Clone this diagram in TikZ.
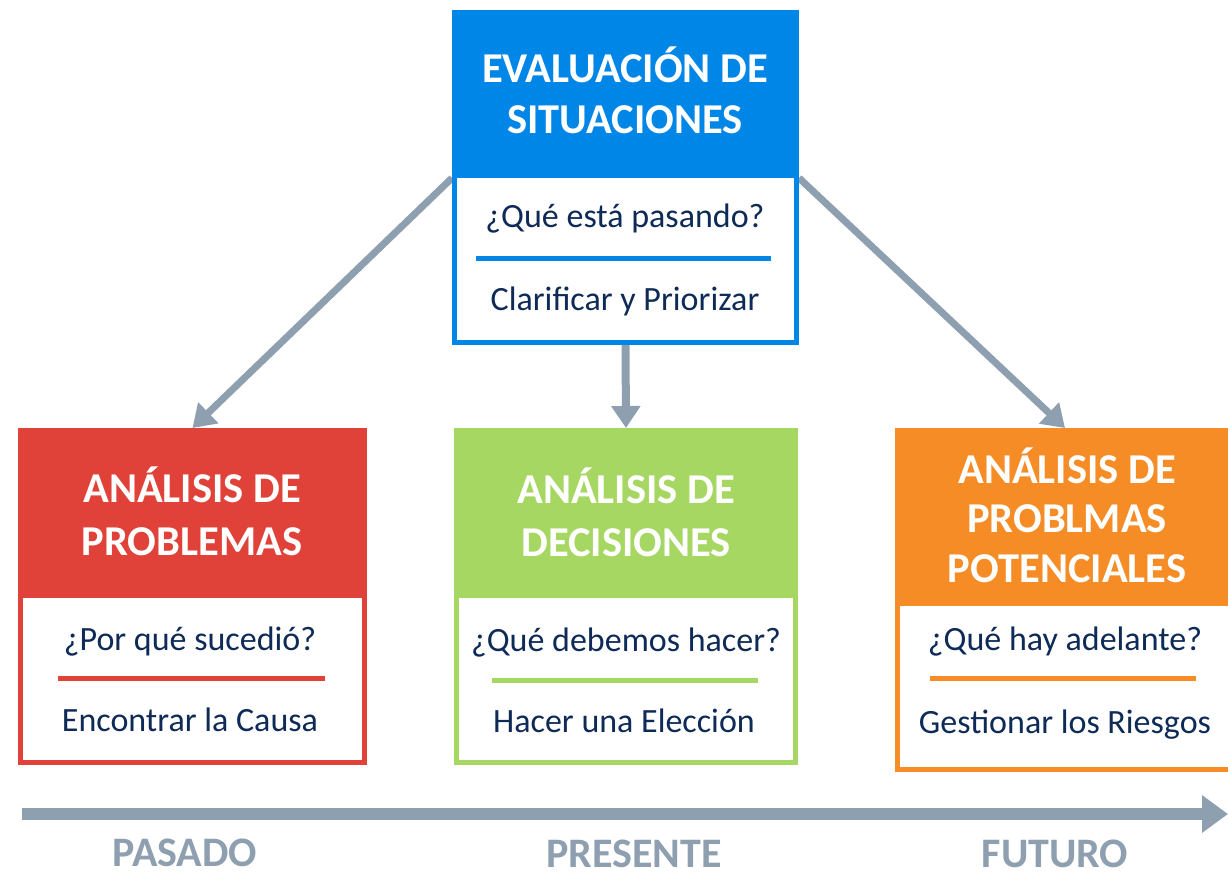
\documentclass[tikz,border=0pt]{standalone}
\usepackage{fontspec}
\setmainfont{Carlito}
\usetikzlibrary{arrows.meta}
\definecolor{cblue}{HTML}{0086E6}
\definecolor{cred}{HTML}{E04239}
\definecolor{cgreen}{HTML}{A6D763}
\definecolor{corange}{HTML}{F58C26}
\definecolor{cgray}{HTML}{8E9FB0}
\definecolor{cnavy}{HTML}{0E2A56}
\begin{document}
\begin{tikzpicture}[x=1pt,y=-1pt,
  hdrtext/.style={font=\fontsize{42.5}{50}\selectfont\bfseries, text=white, anchor=base, inner sep=0},
  subtext/.style={font=\fontsize{34}{40}\selectfont, text=cnavy, anchor=base, inner sep=0},
  timetext/.style={font=\fontsize{42}{48}\selectfont\bfseries, text=cgray, anchor=base, inner sep=0},
  panel/.style={draw=#1, line width=5pt, fill=white, anchor=north west, inner sep=0},
  header/.style={fill=#1, anchor=north west, inner sep=0, outer sep=0},
  divider/.style={draw=#1, line width=5pt},
  conn/.style={draw=cgray, line width=7pt, -{Triangle[length=22pt,width=28pt]}}
]
\useasboundingbox (0,0) rectangle (1228,876);
\clip (0,0) rectangle (1228,876);
\fill[white] (0,0) rectangle (1228,876);

% box frames (named, used by connectors)
\path node[panel=cblue, minimum width=342pt, minimum height=330pt] (eval) at (452,10) {};
\path node[panel=cred, minimum width=344pt, minimum height=332pt] (prob) at (18,428) {};
\path node[panel=cgreen, minimum width=339pt, minimum height=332pt] (dec) at (454,428) {};
\path node[panel=corange, minimum width=335pt, minimum height=339pt] (pot) at (895,428) {};
\path node[header=cblue, minimum width=347pt, minimum height=168pt] (evalh) at (452,10) {};

% connectors (drawn under the boxes)
\draw[conn] (evalh.south west) -- (prob.north);
\draw[conn] (evalh.south east) -- (pot.north);
\draw[conn, line width=8pt] (eval.south) -- (dec.north);

% boxes over connector starts
\path node[panel=cblue, minimum width=342pt, minimum height=330pt] (evalf) at (452,10) {};
\path node[header=cblue, minimum width=347pt, minimum height=168pt] (evalh2) at (452,10) {};
\path node[header=cred, minimum width=349pt, minimum height=170pt] (probh) at (18,428) {};
\path node[header=cgreen, minimum width=344pt, minimum height=170pt] (dech) at (454,428) {};
\path node[header=corange, minimum width=345pt, minimum height=178pt] (poth) at (895,428) {};

% dividers
\draw[divider=cblue] (476,258) -- (771,258);
\draw[divider=cred] (58,678) -- (325,678);
\draw[divider=cgreen] (492,680) -- (758,680);
\draw[divider=corange] (930,678) -- (1196,678);

% header texts
\node[hdrtext] (e1) at (625,82) {EVALUACIÓN DE};
\node[hdrtext] (e2) at (625,133) {SITUACIONES};
\node[hdrtext] (p1) at (192,502) {ANÁLISIS DE};
\node[hdrtext] (p2) at (192,555) {PROBLEMAS};
\node[hdrtext] (d1) at (626,503) {ANÁLISIS DE};
\node[hdrtext] (d2) at (626,556) {DECISIONES};
\node[hdrtext] (o1) at (1067,483) {ANÁLISIS DE};
\node[hdrtext] (o2) at (1067,532) {PROBLMAS};
\node[hdrtext] (o3) at (1067,582) {POTENCIALES};

% sub texts
\node[subtext] (es1) at (625,227) {¿Qué está pasando?};
\node[subtext] (es2) at (625,310) {Clarificar y Priorizar};
\node[subtext] (ps1) at (190,650) {¿Por qué sucedió?};
\node[subtext] (ps2) at (190,731) {Encontrar la Causa};
\node[subtext] (ds1) at (626,651) {¿Qué debemos hacer?};
\node[subtext] (ds2) at (624,732) {Hacer una Elección};
\node[subtext] (os1) at (1065,650) {¿Qué hay adelante?};
\node[subtext] (os2) at (1065,733) {Gestionar los Riesgos};

% timeline
\coordinate (t0) at (22,814);
\coordinate (t1) at (1228,814);
\draw[draw=cgray, line width=12pt, -{Triangle[length=26pt,width=36pt]}] (t0) -- (t1);
\node[timetext] (past) at (185,866) {PASADO};
\node[timetext] (pres) at (634,867) {PRESENTE};
\node[timetext] (fut) at (1055,867) {FUTURO};
\end{tikzpicture}
\end{document}
